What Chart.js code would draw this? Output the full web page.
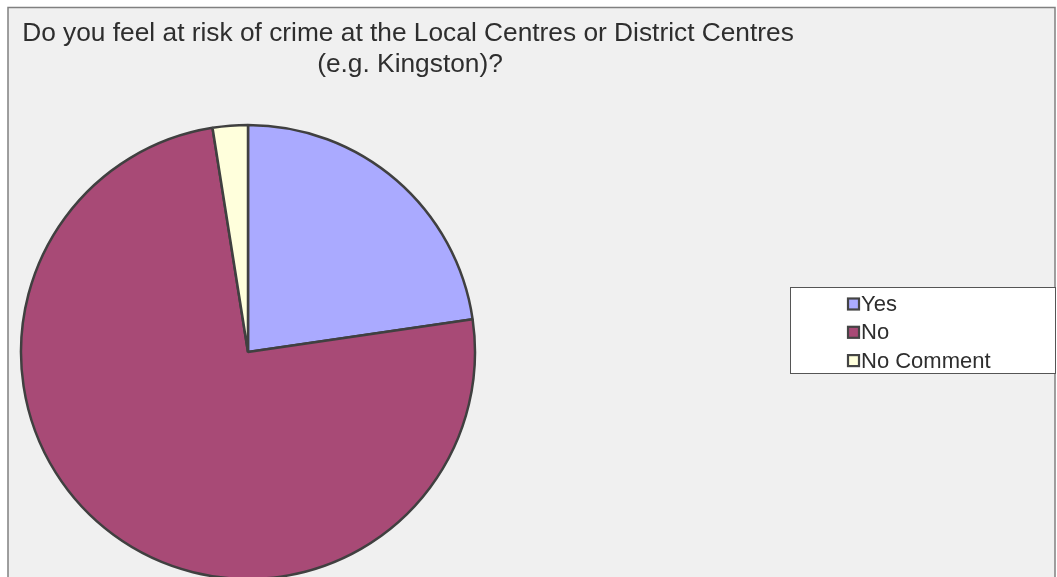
<!DOCTYPE html>
<html>
<head>
<meta charset="utf-8">
<script src="https://cdn.jsdelivr.net/npm/chart.js@4.4.1/dist/chart.umd.min.js"></script>
<style>
  html, body { margin: 0; padding: 0; background: #ffffff; }
  #wrap { position: relative; width: 1057px; height: 577px; }
  canvas { display: block; }
</style>
</head>
<body>
<div id="wrap"><canvas id="chart" width="1057" height="577"></canvas></div>
<script>
// Survey answers (percent of respondents)
const categories = ['Yes', 'No', 'No Comment'];
const responses = [22.7, 74.8, 2.5];
const sliceColors = ['#AAAAFF', '#A84A76', '#FFFFDC'];
const titleLines = [
  'Do you feel at risk of crime at the Local Centres or District Centres',
  '(e.g. Kingston)?'
];

const FONT = '"Liberation Sans", Arial, sans-serif';

// Panel background, frame, title and boxed legend
const panelPlugin = {
  id: 'panel',
  beforeDraw(chart) {
    const ctx = chart.ctx;
    ctx.save();
    ctx.fillStyle = '#ffffff';
    ctx.fillRect(0, 0, chart.width, chart.height);
    ctx.fillStyle = '#F0F0F0';
    ctx.fillRect(8, 7, 1047, 575);
    ctx.strokeStyle = '#808080';
    ctx.lineWidth = 1.5;
    ctx.strokeRect(8, 7.5, 1047, 575);
    ctx.restore();
  },
  afterDraw(chart) {
    const ctx = chart.ctx;
    ctx.save();
    // title
    ctx.fillStyle = '#2e2e2e';
    ctx.font = '26.3px ' + FONT;
    ctx.textAlign = 'center';
    ctx.textBaseline = 'alphabetic';
    ctx.fillText(titleLines[0], 408, 41);
    ctx.fillText(titleLines[1], 410, 72);

    // legend box
    ctx.fillStyle = '#ffffff';
    ctx.fillRect(790, 287, 265, 86);
    ctx.strokeStyle = '#555555';
    ctx.lineWidth = 1;
    ctx.strokeRect(790.5, 287.5, 265, 86);

    const ds = chart.data.datasets[0];
    ctx.font = '22px ' + FONT;
    ctx.textAlign = 'left';
    chart.data.labels.forEach((lab, i) => {
      const cy = 304 + i * 28.3;
      ctx.fillStyle = ds.backgroundColor[i];
      ctx.fillRect(848, cy - 5.5, 11, 11);
      ctx.strokeStyle = '#444444';
      ctx.lineWidth = 2.2;
      ctx.strokeRect(848, cy - 5.5, 11, 11);
      ctx.fillStyle = '#2e2e2e';
      ctx.textBaseline = 'middle';
      ctx.fillText(lab, 861, cy + 1);
    });
    ctx.restore();
  }
};

new Chart(document.getElementById('chart'), {
  type: 'pie',
  data: {
    labels: categories,
    datasets: [{
      data: responses,
      backgroundColor: sliceColors,
      borderColor: '#404040',
      borderWidth: 2.5,
      radius: 227,
      clip: false
    }]
  },
  options: {
    responsive: false,
    animation: false,
    layout: { padding: { left: 22, right: 583, top: 127, bottom: 0 } },
    plugins: {
      legend: { display: false },
      title: { display: false },
      tooltip: { enabled: false }
    }
  },
  plugins: [panelPlugin]
});
</script>
</body>
</html>
